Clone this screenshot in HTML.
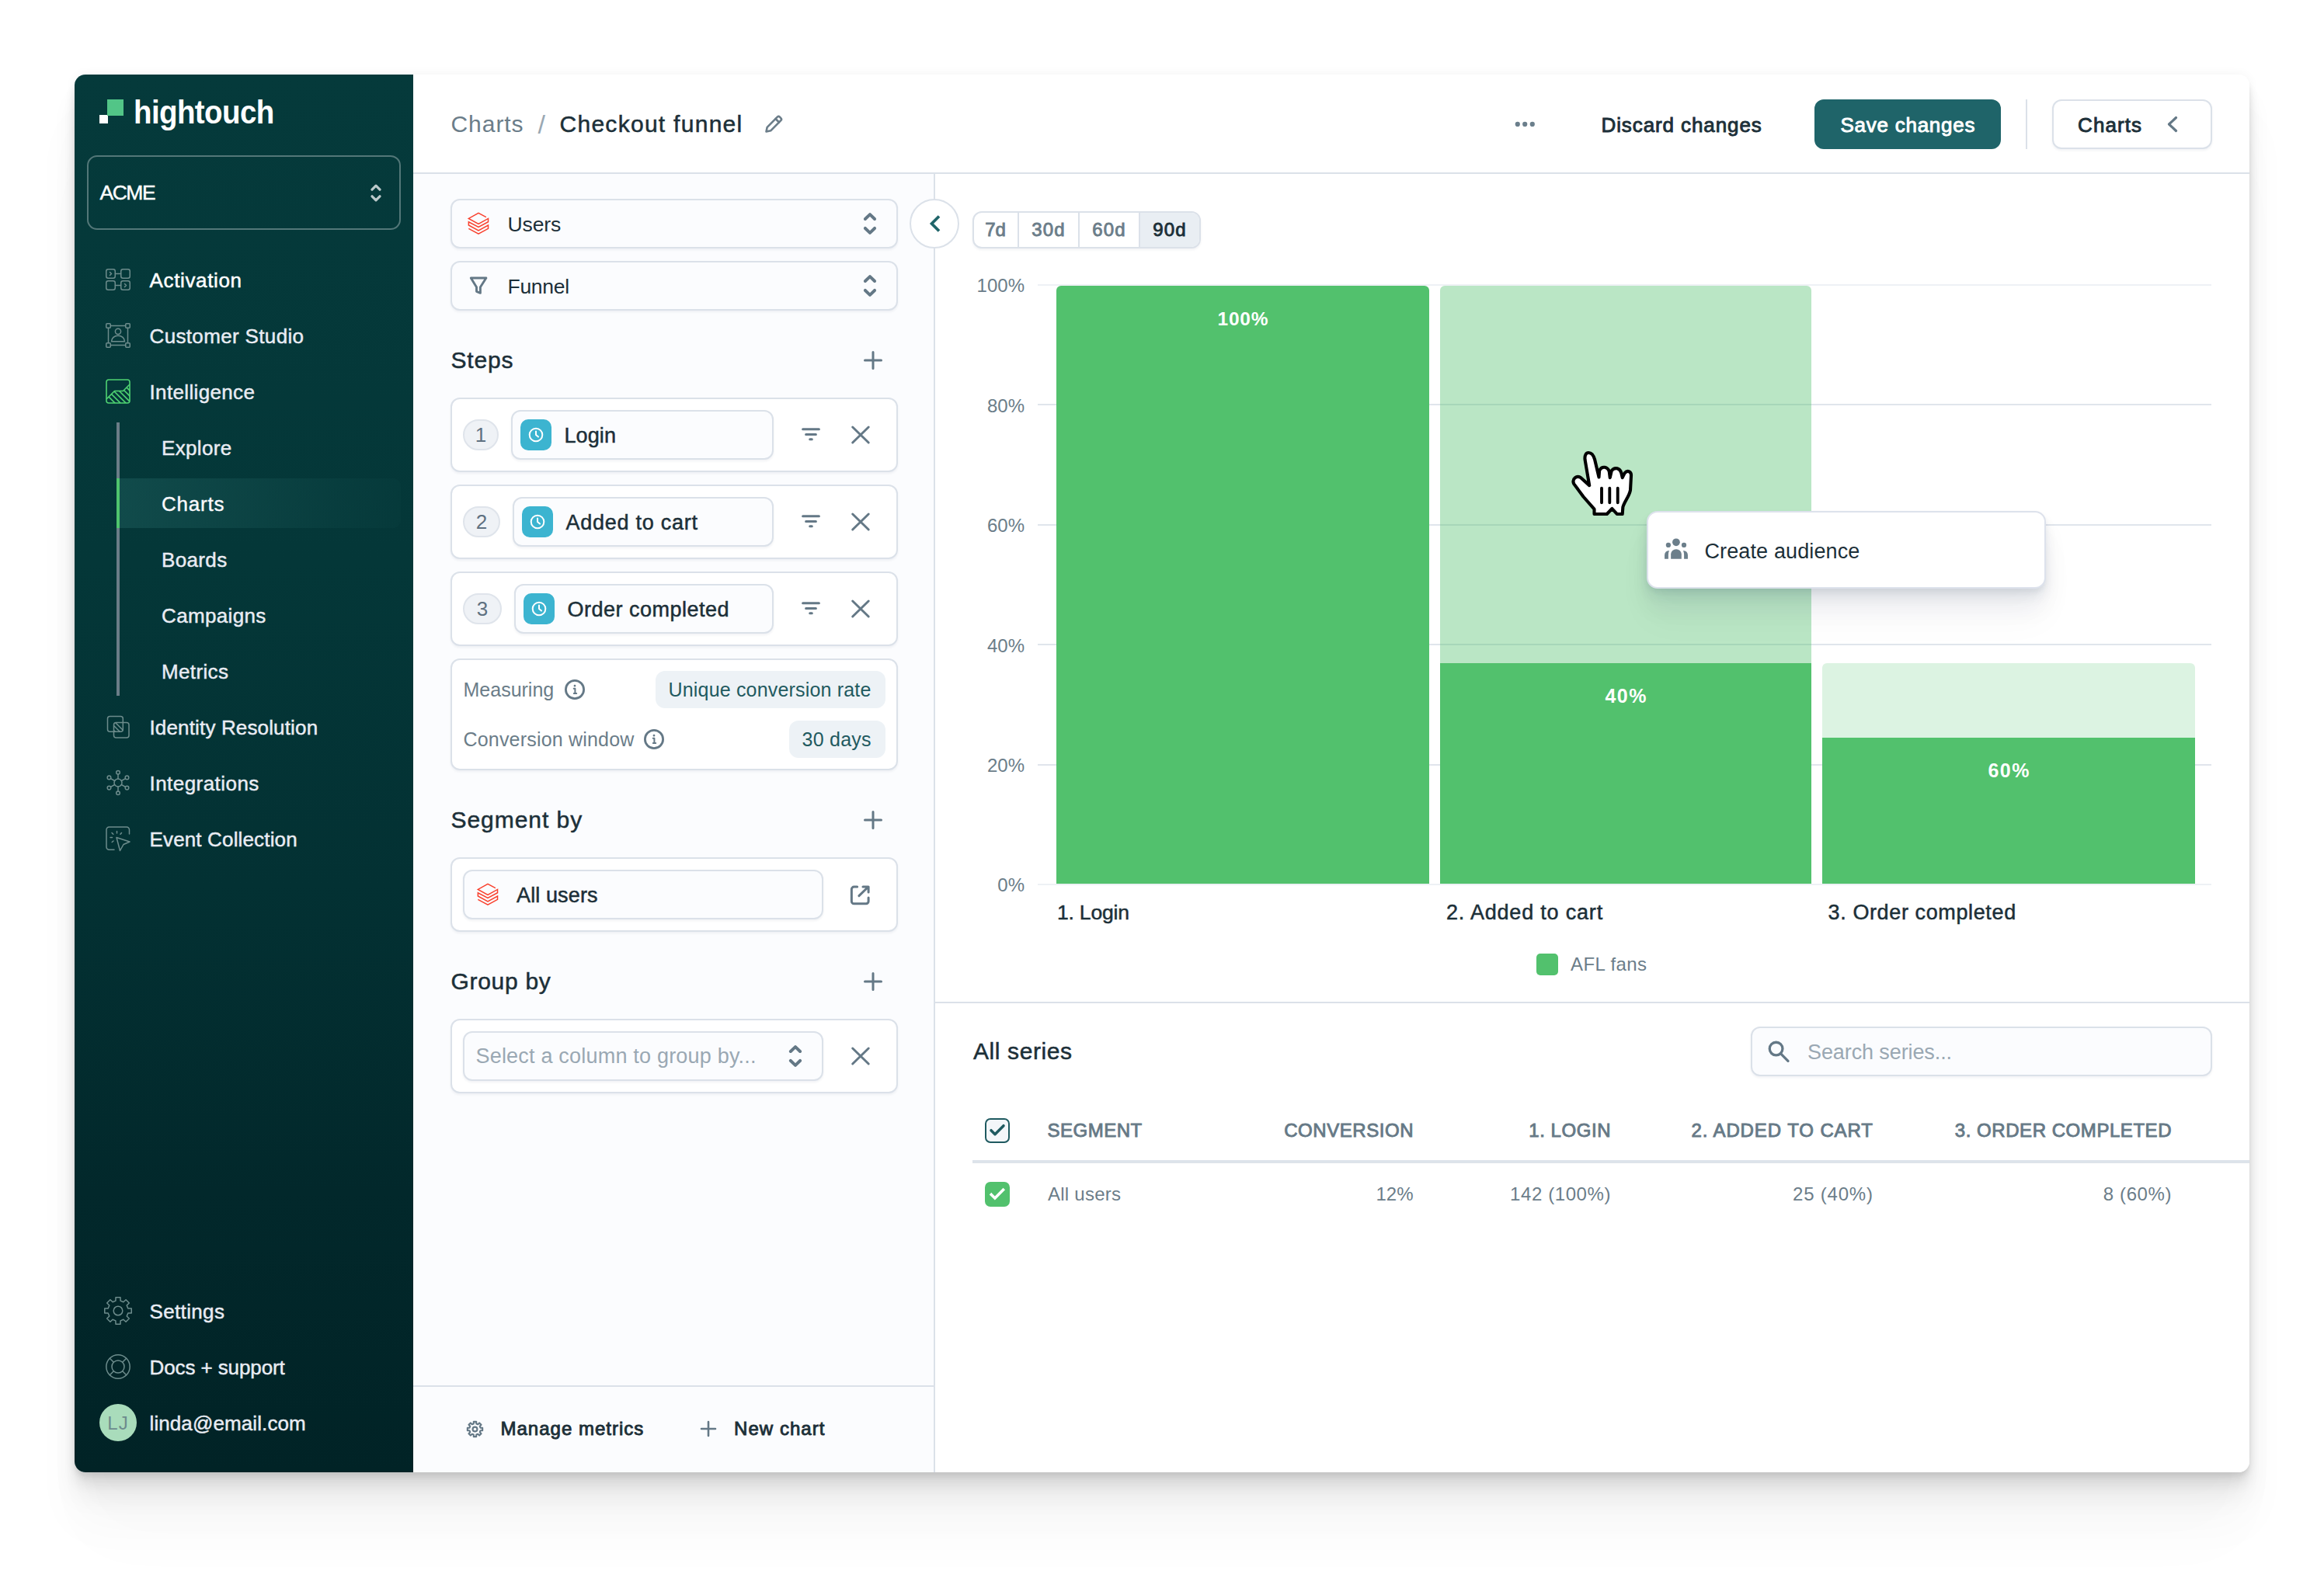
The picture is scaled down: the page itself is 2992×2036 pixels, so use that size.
<!DOCTYPE html>
<html lang="en">
<head>
<meta charset="utf-8">
<title>Checkout funnel – Charts</title>
<style>
*{box-sizing:border-box;margin:0;padding:0}
html,body{width:2992px;height:2036px;background:#fff;overflow:hidden}
body{position:relative;font-family:"Liberation Sans",sans-serif;color:#1f2f3a;-webkit-font-smoothing:antialiased}
#card{position:absolute;left:96px;top:96px;width:2800px;height:1800px;border-radius:14px;overflow:hidden;background:#fff}
#shadow{position:absolute;left:96px;top:96px;width:2800px;height:1800px;border-radius:14px;box-shadow:0 0 14px rgba(0,0,0,.05),0 4px 4px rgba(0,0,0,.03),0 8px 8px rgba(0,0,0,.04),0 16px 16px rgba(0,0,0,.065),0 32px 32px rgba(0,0,0,.06),0 64px 64px rgba(0,0,0,.03),0 100px 100px rgba(0,0,0,.012)}
#in{position:absolute;left:-96px;top:-96px;width:2992px;height:2036px}
.a{position:absolute}
.t{position:absolute;white-space:nowrap}
svg{position:absolute;overflow:visible}
/* sidebar */
#side{left:96px;top:96px;width:436px;height:1800px;background:linear-gradient(180deg,#053a3b 0%,#043738 35%,#033133 58%,#02282b 80%,#012326 100%)}
.nav{color:#e9ecf3;font-size:26px;height:40px;line-height:40px;letter-spacing:.35px;-webkit-text-stroke:.45px #e9ecf3}
.ic{stroke:#6d8c8c;stroke-width:1.5;fill:none;stroke-linecap:round;stroke-linejoin:round}
/* main */
.m5{-webkit-text-stroke:.5px currentColor}
.m6{-webkit-text-stroke:.9px currentColor}
.grey{color:#6b7d89}
.dk{color:#1c2f38}
.box{position:absolute;border:2px solid #dbe1e9;border-radius:12px;background:#fbfcfe;box-shadow:0 2px 3px rgba(30,50,80,.06)}
.wbox{position:absolute;border:2px solid #dbe1e9;border-radius:12px;background:#fff;box-shadow:0 2px 3px rgba(30,50,80,.06)}
.gi{stroke:#647886;fill:none;stroke-linecap:round;stroke-linejoin:round}
.h30{font-size:30px;height:40px;line-height:40px}
.f27{font-size:27px;height:40px;line-height:40px}
.f25{font-size:25px;height:36px;line-height:36px}
.f24{font-size:24px;height:32px;line-height:32px}
</style>
</head>
<body>
<div id="shadow"></div>
<div id="card"><div id="in">
<!--SIDEBAR-->
<div class="a" id="side"></div>
<!-- logo -->
<div class="a" style="left:128px;top:148px;width:11px;height:11px;background:#fff"></div>
<div class="a" style="left:138px;top:128px;width:21px;height:21px;background:#52c587"></div>
<div class="t" style="left:172px;top:117px;height:56px;line-height:56px;font-size:38.5px;font-weight:700;color:#fff;letter-spacing:-.6px;transform-origin:0 50%;transform:scale(1,1.1)">hightouch</div>
<!-- workspace -->
<div class="a" style="left:112px;top:200px;width:404px;height:96px;border:2px solid #537778;border-radius:13px"></div>
<div class="t" style="left:128.5px;top:228px;height:40px;line-height:40px;font-size:26.5px;color:#fff;letter-spacing:-1.5px;-webkit-text-stroke:.4px #fff">ACME</div>
<svg style="left:476px;top:236px" width="16" height="25" viewBox="0 0 16 25"><path d="M3 8.200 L8 3.200 L13 8.200 M3 16.800 L8 21.800 L13 16.800" fill="none" stroke="#bccacb" stroke-width="3.200" stroke-linecap="round" stroke-linejoin="round"/></svg>
<!-- nav icons -->
<svg style="left:136px;top:346px" width="32" height="28" viewBox="0 0 32 28" class="ic"><rect x=".75" y=".75" width="11.5" height="11.5" rx="2.5"/><rect x="19.75" y=".75" width="11.5" height="11.5" rx="2.5"/><rect x=".75" y="15.75" width="11.5" height="11.5" rx="2.5"/><rect x="19.75" y="15.75" width="11.5" height="11.5" rx="2.5"/><path d="M12.5 6.5h7M12.5 21.5h7M5.5 4.5l2 2-2 2M24.5 19.5l2 2-2 2"/></svg>
<svg style="left:136px;top:416px" width="32" height="32" viewBox="0 0 32 32" class="ic"><path d="M6.5 3.5h19M6.5 28.5h19M3.5 6.5v19M28.5 6.5v19"/><rect x=".75" y=".75" width="5.5" height="5.5" rx="1"/><rect x="25.75" y=".75" width="5.5" height="5.5" rx="1"/><rect x=".75" y="25.75" width="5.5" height="5.5" rx="1"/><rect x="25.75" y="25.75" width="5.5" height="5.5" rx="1"/><circle cx="16" cy="10.8" r="3.6"/><path d="M7.5 23.8a8.5 7.6 0 0 1 17 0z"/></svg>
<svg style="left:136px;top:488px" width="32" height="32" viewBox="0 0 32 32" fill="none" stroke="#4fd272" stroke-width="1.6" stroke-linecap="round" stroke-linejoin="round"><defs><clipPath id="ia"><path d="M1 26 L11.5 15.5 L22.5 15.5 L31 7 L31 31 L1 31Z"/></clipPath></defs><rect x="1" y="1" width="30" height="30" rx="3"/><path d="M1.5 25.5 L11.5 15.5 L22.5 15.5 L30.5 7.5"/><g clip-path="url(#ia)"><path d="M-2 17l16 16M3 15l18 18M9 14l18 18M15 13l18 18M21 12l14 14M26 10l10 10"/></g></svg>
<!-- sub nav -->
<div class="a" style="left:150px;top:544px;width:4px;height:352px;background:#6b7d87"></div>
<div class="a" style="left:154px;top:616px;width:362px;height:64px;border-radius:0 10px 10px 0;background:linear-gradient(90deg,rgba(90,185,180,.15) 0%,rgba(90,185,180,.13) 14%,rgba(90,185,180,.09) 45%,rgba(90,185,180,.04) 80%,rgba(90,185,180,.02) 100%)"></div>
<div class="a" style="left:150px;top:616px;width:4px;height:64px;background:#4fc46d"></div>
<div class="t nav" style="left:192.5px;top:341px;color:#fff;letter-spacing:.65px;-webkit-text-stroke:.5px #fff">Activation</div>
<div class="t nav" style="left:192.5px;top:413px">Customer Studio</div>
<div class="t nav" style="left:192.5px;top:485px">Intelligence</div>
<div class="t nav" style="left:208px;top:557px">Explore</div>
<div class="t nav" style="left:208px;top:629px;letter-spacing:.8px;color:#fff">Charts</div>
<div class="t nav" style="left:208px;top:701px">Boards</div>
<div class="t nav" style="left:208px;top:773px">Campaigns</div>
<div class="t nav" style="left:208px;top:845px">Metrics</div>
<div class="t nav" style="left:192.5px;top:917px;letter-spacing:.15px">Identity Resolution</div>
<div class="t nav" style="left:192.5px;top:989px;letter-spacing:.45px">Integrations</div>
<div class="t nav" style="left:192.5px;top:1061px;letter-spacing:.15px">Event Collection</div>
<svg style="left:136px;top:920px" width="32" height="32" viewBox="0 0 32 32" class="ic"><defs><clipPath id="ib"><rect x="10.5" y="10.5" width="11.8" height="11.8"/></clipPath></defs><rect x="2.5" y="2.5" width="19.8" height="19.8" rx="3"/><rect x="10.5" y="10.5" width="19.5" height="19.5" rx="3"/><g clip-path="url(#ib)"><path d="M8 12l12 12M11 9l13 13M5 15l10 10"/></g></svg>
<svg style="left:136px;top:992px" width="32" height="32" viewBox="0 0 32 32" class="ic"><circle cx="16" cy="16" r="5"/><circle cx="16" cy="2.8" r="2.3"/><circle cx="16" cy="29.2" r="2.3"/><circle cx="4.5" cy="9.4" r="2.3"/><circle cx="27.5" cy="9.4" r="2.3"/><circle cx="4.5" cy="22.6" r="2.3"/><circle cx="27.5" cy="22.6" r="2.3"/><path d="M16 5.1v5.9M16 21v5.9M6.5 10.6l5.2 2.9M25.5 10.6l-5.2 2.9M6.5 21.4l5.2-2.9M25.5 21.4l-5.2-2.9"/></svg>
<svg style="left:136px;top:1064px" width="32" height="32" viewBox="0 0 32 32" class="ic"><path d="M11 30.2H4.5a3.5 3.5 0 0 1-3.500-3.500V4.500A3.500 3.500 0 0 1 4.500 1H27a3.500 3.500 0 0 1 3.500 3.500V10"/><path d="M14 14.500l17 5.500-8 3.500-4.500 8z"/><path d="M14.500 6.500v2.500M8 8.500l1.800 1.800M20.500 8.500l-1.500 1.800M6 14.500h2.500M8.200 20.500l1.800-1.500"/></svg>
<!-- bottom nav -->
<svg style="left:134px;top:1670px" width="36" height="36" viewBox="-18 -18 36 36" class="ic"><path d="M-3.08 -12.84 L-3.01 -17.24 L3.01 -17.24 L3.08 -12.84 L6.90 -11.25 L10.06 -14.32 L14.32 -10.06 L11.25 -6.90 L12.84 -3.08 L17.24 -3.01 L17.24 3.01 L12.84 3.08 L11.25 6.90 L14.32 10.06 L10.06 14.32 L6.90 11.25 L3.08 12.84 L3.01 17.24 L-3.01 17.24 L-3.08 12.84 L-6.90 11.25 L-10.06 14.32 L-14.32 10.06 L-11.25 6.90 L-12.84 3.08 L-17.24 3.01 L-17.24 -3.01 L-12.84 -3.08 L-11.25 -6.90 L-14.32 -10.06 L-10.06 -14.32 L-6.90 -11.25Z" stroke-width="1.5"/><circle cx="0" cy="0" r="5.8"/></svg>
<svg style="left:136px;top:1744px" width="32" height="32" viewBox="0 0 32 32" class="ic"><circle cx="16" cy="16" r="15.200"/><circle cx="16" cy="16" r="8"/><path d="M5.300 5.300l5 5M26.700 5.300l-5 5M5.300 26.700l5-5M26.700 26.700l-5-5"/></svg>
<div class="a" style="left:128px;top:1808px;width:48px;height:48px;border-radius:50%;background:#a9dcbb"></div>
<div class="t" style="left:128px;top:1808px;width:48px;height:48px;line-height:49px;text-align:center;font-size:24px;color:#6d8b8d;letter-spacing:1px">LJ</div>
<div class="t nav" style="left:192.5px;top:1669px">Settings</div>
<div class="t nav" style="left:192.5px;top:1741px;letter-spacing:-.1px">Docs + support</div>
<div class="t nav" style="left:192.5px;top:1813px;letter-spacing:.1px">linda@email.com</div>
<!--/SIDEBAR-->
<!--HEADER-->
<div class="a" style="left:532px;top:222px;width:2364px;height:2px;background:#dbe1e9"></div>
<div class="t h30 grey" style="left:580.5px;top:139.500px;letter-spacing:.95px">Charts</div>
<div class="t h30" style="left:692.5px;top:139.500px;color:#9aa8b3;font-size:34px;font-weight:400">/</div>
<div class="t h30 dk m5" style="left:720.5px;top:139.500px;letter-spacing:1.28px">Checkout funnel</div>
<svg style="left:984px;top:148px" width="24" height="24" viewBox="0 0 24 24" fill="none" stroke="#6b7d89" stroke-width="2.6" stroke-linejoin="round" stroke-linecap="round"><path d="M2.500 21.500l1.200-5.700L16.800 2.700a2.200 2.200 0 0 1 3.100 0l1.400 1.400a2.200 2.200 0 0 1 0 3.100L8.200 20.300z"/><path d="M14.500 5l4.500 4.500"/></svg>
<svg style="left:1950px;top:155px" width="28" height="10" viewBox="0 0 28 10" fill="#6b7f8c"><circle cx="3.800" cy="4.900" r="3.100"/><circle cx="13.200" cy="4.900" r="3.100"/><circle cx="22.800" cy="4.900" r="3.100"/></svg>
<div class="t dk m6" style="left:2061.500px;top:140.500px;font-size:26px;height:40px;line-height:40px;letter-spacing:.9px">Discard changes</div>
<div class="a" style="left:2336px;top:128px;width:240px;height:64px;border-radius:12px;background:#1f6469"></div>
<div class="t m6" style="left:2336px;top:140.500px;width:240px;text-align:center;font-size:26px;height:40px;line-height:40px;color:#fff;letter-spacing:.75px;text-indent:.75px">Save changes</div>
<div class="a" style="left:2608px;top:128px;width:2px;height:64px;background:#dbe1e9"></div>
<div class="wbox" style="left:2642px;top:128px;width:206px;height:64px"></div>
<div class="t dk m6" style="left:2675px;top:140.500px;font-size:26px;height:40px;line-height:40px;letter-spacing:1.1px">Charts</div>
<svg style="left:2788px;top:148px" width="18" height="24" viewBox="0 0 18 24" class="gi" stroke-width="3.200"><path d="M13.500 3.500L4.500 12l9 8.500"/></svg>
<!--/HEADER-->
<!--PANEL-->
<div class="a" style="left:532px;top:224px;width:670px;height:1672px;background:#fbfcfe"></div>
<div class="a" style="left:1202px;top:224px;width:2px;height:1672px;background:#dbe1e9"></div>
<!-- selects -->
<div class="box" style="left:580px;top:256px;width:576px;height:64px"></div>
<svg style="left:602px;top:274px" width="28" height="28" viewBox="0 0 28 28" fill="none" stroke="#f9402d" stroke-width="1.500" stroke-linejoin="miter" stroke-linecap="butt"><path d="M23.870 5.650L14 .460 1.340 7.420 14 14.380 26.530 7.420V11.720L14 18.430 1.340 11.720V16.030L14 22.860 26.530 16.030V20.330L14 27.160 1.340 20.330"/></svg>
<div class="t f27 dk" style="left:653.500px;top:269px;font-size:26.500px;letter-spacing:-.1px">Users</div>
<svg style="left:1110px;top:273px" width="20" height="30" viewBox="0 0 20 30" class="gi" stroke-width="4"><path d="M3.900 9L10 3.100 16.050 9M3.900 20.970L10 26.850 16.050 20.970"/></svg>
<div class="box" style="left:580px;top:336px;width:576px;height:64px"></div>
<svg style="left:603px;top:355px" width="26" height="26" viewBox="0 0 26 26" class="gi" stroke-width="2.900"><path d="M3.260 3.070H22.880L15.400 14.700V22.400L10.500 20.300V14.700z"/></svg>
<div class="t f27 dk" style="left:653.500px;top:349px;font-size:26.500px;letter-spacing:-.3px">Funnel</div>
<svg style="left:1110px;top:353px" width="20" height="30" viewBox="0 0 20 30" class="gi" stroke-width="4"><path d="M3.900 9L10 3.100 16.050 9M3.900 20.970L10 26.850 16.050 20.970"/></svg>
<!-- Steps -->
<div class="t h30 dk m5" style="left:580.5px;top:443.500px;letter-spacing:.8px">Steps</div>
<svg style="left:1112px;top:452px" width="24" height="24" viewBox="0 0 24 24" class="gi" stroke-width="3"><path d="M12 1.500v21M1.500 12h21"/></svg>
<!-- step 1 -->
<div class="wbox" style="left:580px;top:512px;width:576px;height:96px"></div>
<div class="a" style="left:596px;top:540px;width:46px;height:40px;border-radius:20px;background:#eff2f6;border:2px solid #dfe4eb"></div>
<div class="t f27" style="left:596px;top:540px;width:46px;text-align:center;color:#5f7181;font-size:26px">1</div>
<div class="box" style="left:658px;top:528px;width:338px;height:64px"></div>
<div class="a" style="left:670px;top:540px;width:40px;height:40px;border-radius:10px;background:#3cb4d0"></div>
<svg style="left:680px;top:550px" width="20" height="20" viewBox="0 0 20 20" fill="none" stroke="#fff" stroke-width="2" stroke-linecap="round" stroke-linejoin="round"><circle cx="10" cy="10" r="8.300"/><path d="M10 5.500V10l3 2.500"/></svg>
<div class="t f27 dk m5" style="left:726.500px;top:541px;letter-spacing:.1px">Login</div>
<svg style="left:1031px;top:550px" width="26" height="20" viewBox="0 0 26 20" class="gi" stroke-width="3"><path d="M2.600 2.700H23.400M6.600 9.400H19.400M11.700 15.800H14.300"/></svg>
<svg style="left:1096px;top:548px" width="24" height="24" viewBox="0 0 24 24" class="gi" stroke-width="3"><path d="M1.700 2L22.200 22M22.200 2L1.700 22"/></svg>
<!-- step 2 -->
<div class="wbox" style="left:580px;top:624px;width:576px;height:96px"></div>
<div class="a" style="left:596px;top:652px;width:48px;height:40px;border-radius:20px;background:#eff2f6;border:2px solid #dfe4eb"></div>
<div class="t f27" style="left:596px;top:652px;width:48px;text-align:center;color:#5f7181;font-size:26px">2</div>
<div class="box" style="left:660px;top:640px;width:336px;height:64px"></div>
<div class="a" style="left:672px;top:652px;width:40px;height:40px;border-radius:10px;background:#3cb4d0"></div>
<svg style="left:682px;top:662px" width="20" height="20" viewBox="0 0 20 20" fill="none" stroke="#fff" stroke-width="2" stroke-linecap="round" stroke-linejoin="round"><circle cx="10" cy="10" r="8.300"/><path d="M10 5.500V10l3 2.500"/></svg>
<div class="t f27 dk m5" style="left:728.500px;top:653px;letter-spacing:.75px">Added to cart</div>
<svg style="left:1031px;top:662px" width="26" height="20" viewBox="0 0 26 20" class="gi" stroke-width="3"><path d="M2.600 2.700H23.400M6.600 9.400H19.400M11.700 15.800H14.300"/></svg>
<svg style="left:1096px;top:660px" width="24" height="24" viewBox="0 0 24 24" class="gi" stroke-width="3"><path d="M1.700 2L22.200 22M22.200 2L1.700 22"/></svg>
<!-- step 3 -->
<div class="wbox" style="left:580px;top:736px;width:576px;height:96px"></div>
<div class="a" style="left:596px;top:764px;width:50px;height:40px;border-radius:20px;background:#eff2f6;border:2px solid #dfe4eb"></div>
<div class="t f27" style="left:596px;top:764px;width:50px;text-align:center;color:#5f7181;font-size:26px">3</div>
<div class="box" style="left:662px;top:752px;width:334px;height:64px"></div>
<div class="a" style="left:674px;top:764px;width:40px;height:40px;border-radius:10px;background:#3cb4d0"></div>
<svg style="left:684px;top:774px" width="20" height="20" viewBox="0 0 20 20" fill="none" stroke="#fff" stroke-width="2" stroke-linecap="round" stroke-linejoin="round"><circle cx="10" cy="10" r="8.300"/><path d="M10 5.500V10l3 2.500"/></svg>
<div class="t f27 dk m5" style="left:730.500px;top:765px;letter-spacing:.5px">Order completed</div>
<svg style="left:1031px;top:774px" width="26" height="20" viewBox="0 0 26 20" class="gi" stroke-width="3"><path d="M2.600 2.700H23.400M6.600 9.400H19.400M11.700 15.800H14.300"/></svg>
<svg style="left:1096px;top:772px" width="24" height="24" viewBox="0 0 24 24" class="gi" stroke-width="3"><path d="M1.700 2L22.200 22M22.200 2L1.700 22"/></svg>
<!-- measuring -->
<div class="wbox" style="left:580px;top:848px;width:576px;height:144px"></div>
<div class="t f25 grey" style="left:596.500px;top:870px">Measuring</div>
<svg style="left:727px;top:875px" width="26" height="26" viewBox="0 0 26 26" class="gi" stroke-width="2.800"><circle cx="13" cy="13" r="11.600" stroke-width="2.800"/><path d="M11.700 11.800h1.700v5.800M11.800 17.900h3.400" stroke-width="2"/><circle cx="13" cy="8.200" r=".8" fill="#5f7181" stroke-width="1.200"/></svg>
<div class="a" style="left:844px;top:864px;width:296px;height:48px;border-radius:12px;background:#edf2f6"></div>
<div class="t f25" style="left:860.500px;top:870px;color:#1f5a60;letter-spacing:.18px">Unique conversion rate</div>
<div class="t f25 grey" style="left:596.500px;top:934px;letter-spacing:.19px">Conversion window</div>
<svg style="left:829px;top:939px" width="26" height="26" viewBox="0 0 26 26" class="gi" stroke-width="2.800"><circle cx="13" cy="13" r="11.600" stroke-width="2.800"/><path d="M11.700 11.800h1.700v5.800M11.800 17.900h3.400" stroke-width="2"/><circle cx="13" cy="8.200" r=".8" fill="#5f7181" stroke-width="1.200"/></svg>
<div class="a" style="left:1016px;top:928px;width:124px;height:48px;border-radius:12px;background:#edf2f6"></div>
<div class="t f25" style="left:1032.500px;top:934px;color:#1f5a60;letter-spacing:.26px">30 days</div>
<!-- segment by -->
<div class="t h30 dk m5" style="left:580.500px;top:1035.500px;letter-spacing:.95px">Segment by</div>
<svg style="left:1112px;top:1044px" width="24" height="24" viewBox="0 0 24 24" class="gi" stroke-width="3"><path d="M12 1.500v21M1.500 12h21"/></svg>
<div class="wbox" style="left:580px;top:1104px;width:576px;height:96px"></div>
<div class="box" style="left:596px;top:1120px;width:464px;height:64px"></div>
<svg style="left:614px;top:1138px" width="28" height="28" viewBox="0 0 28 28" fill="none" stroke="#f9402d" stroke-width="1.500" stroke-linejoin="miter" stroke-linecap="butt"><path d="M23.870 5.650L14 .460 1.340 7.420 14 14.380 26.530 7.420V11.720L14 18.430 1.340 11.720V16.030L14 22.860 26.530 16.030V20.330L14 27.160 1.340 20.330"/></svg>
<div class="t f27 dk m5" style="left:665px;top:1133px;letter-spacing:.12px">All users</div>
<svg style="left:1094px;top:1139px" width="28" height="28" viewBox="0 0 28 28" class="gi" stroke-width="3"><path d="M9.650 3.040H5.500A3.150 3.150 0 0 0 2.350 6.200V21.800A3 3 0 0 0 5.500 24.800H21.100A3 3 0 0 0 24.100 21.800V17.100"/><path d="M11.900 14.700L23.900 3.040M16.960 3.040H24.100V10"/></svg>
<!-- group by -->
<div class="t h30 dk m5" style="left:580.500px;top:1243.500px;letter-spacing:.7px">Group by</div>
<svg style="left:1112px;top:1252px" width="24" height="24" viewBox="0 0 24 24" class="gi" stroke-width="3"><path d="M12 1.500v21M1.500 12h21"/></svg>
<div class="wbox" style="left:580px;top:1312px;width:576px;height:96px"></div>
<div class="box" style="left:596px;top:1328px;width:464px;height:64px"></div>
<div class="t f27" style="left:612.500px;top:1340px;color:#9aa8b3;letter-spacing:.2px">Select a column to group by...</div>
<svg style="left:1014px;top:1345px" width="20" height="30" viewBox="0 0 20 30" class="gi" stroke-width="4"><path d="M3.900 9L10 3.100 16.050 9M3.900 20.970L10 26.850 16.050 20.970"/></svg>
<svg style="left:1096px;top:1348px" width="24" height="24" viewBox="0 0 24 24" class="gi" stroke-width="3"><path d="M1.700 2L22.200 22M22.200 2L1.700 22"/></svg>
<!-- bottom bar -->
<div class="a" style="left:532px;top:1784px;width:670px;height:2px;background:#dbe1e9"></div>
<svg style="left:601px;top:1829.500px" width="21" height="21" viewBox="-11.800 -11.800 23.600 23.600" fill="none" stroke="#647886" stroke-width="2.400" stroke-linejoin="round"><path d="M-1.910 -7.970 L-1.890 -10.840 L1.890 -10.840 L1.910 -7.970 L4.280 -6.990 L6.330 -9.000 L9.000 -6.330 L6.990 -4.280 L7.970 -1.910 L10.840 -1.890 L10.840 1.890 L7.970 1.910 L6.990 4.280 L9.000 6.330 L6.330 9.000 L4.280 6.990 L1.910 7.970 L1.890 10.840 L-1.890 10.840 L-1.910 7.970 L-4.280 6.990 L-6.330 9.000 L-9.000 6.330 L-6.990 4.280 L-7.970 1.910 L-10.840 1.890 L-10.840 -1.890 L-7.970 -1.910 L-6.990 -4.280 L-9.000 -6.330 L-6.330 -9.000 L-4.280 -6.990Z"/><circle cx="0" cy="0" r="3.300"/></svg>
<div class="t dk m6" style="left:644.500px;top:1820px;font-size:24px;height:40px;line-height:40px;letter-spacing:1px">Manage metrics</div>
<svg style="left:902px;top:1830px" width="20" height="20" viewBox="0 0 20 20" class="gi" stroke-width="2.600"><path d="M10 1v18M1 10h18"/></svg>
<div class="t dk m6" style="left:945px;top:1820px;font-size:24px;height:40px;line-height:40px;letter-spacing:1.050px">New chart</div>
<!--/PANEL-->
<!--CHART-->
<div class="a" style="left:1204px;top:1290px;width:1692px;height:2px;background:#dbe1e9"></div>
<!-- collapse btn -->
<div class="a" style="left:1171px;top:256px;width:64px;height:64px;border-radius:50%;background:#fff;border:2px solid #dbe1e9"></div>
<svg style="left:1195px;top:277px" width="16" height="22" viewBox="0 0 16 22" fill="none" stroke="#1f6469" stroke-width="3.700" stroke-linecap="butt" stroke-linejoin="miter"><path d="M14 1.500L4.500 11l9.500 9.500"/></svg>
<!-- range -->
<div class="wbox" style="left:1252px;top:272px;width:294px;height:48px;overflow:hidden"><div class="a" style="left:213px;top:0;width:79px;height:44px;background:#e9eef3"></div><div class="a" style="left:56px;top:0;width:2px;height:44px;background:#dbe1e9"></div><div class="a" style="left:134px;top:0;width:2px;height:44px;background:#dbe1e9"></div><div class="a" style="left:212px;top:0;width:2px;height:44px;background:#dbe1e9"></div></div>
<div class="t f24 grey m6" style="left:1253px;top:279.500px;width:57px;text-align:center">7d</div>
<div class="t f24 grey m6" style="left:1311px;top:279.500px;width:77px;text-align:center;letter-spacing:1.2px;text-indent:1.2px">30d</div>
<div class="t f24 grey m6" style="left:1389px;top:279.500px;width:77px;text-align:center;letter-spacing:1.2px;text-indent:1.2px">60d</div>
<div class="t f24 dk m6" style="left:1467px;top:279.500px;width:77px;text-align:center;letter-spacing:1.2px;text-indent:1.2px">90d</div>
<!-- grid -->
<div class="a" style="left:1336px;top:366px;width:1511px;height:2px;background:#eef1f5"></div>
<div class="a" style="left:1336px;top:520px;width:1511px;height:2px;background:#e0e5ec"></div>
<div class="a" style="left:1336px;top:675px;width:1511px;height:2px;background:#e0e5ec"></div>
<div class="a" style="left:1336px;top:829px;width:1511px;height:2px;background:#e0e5ec"></div>
<div class="a" style="left:1336px;top:984px;width:1511px;height:2px;background:#e0e5ec"></div>
<div class="a" style="left:1336px;top:1138px;width:1511px;height:2px;background:#eef1f5"></div>
<div class="t f24 grey" style="left:1219px;top:352px;width:100px;text-align:right">100%</div>
<div class="t f24 grey" style="left:1219px;top:506.500px;width:100px;text-align:right">80%</div>
<div class="t f24 grey" style="left:1219px;top:661px;width:100px;text-align:right">60%</div>
<div class="t f24 grey" style="left:1219px;top:815.500px;width:100px;text-align:right">40%</div>
<div class="t f24 grey" style="left:1219px;top:970px;width:100px;text-align:right">20%</div>
<div class="t f24 grey" style="left:1219px;top:1124px;width:100px;text-align:right">0%</div>
<!-- bars -->
<div class="a" style="left:1360px;top:368px;width:480px;height:770px;background:#52c16d;border-radius:6px 6px 0 0"></div>
<div class="a" style="left:1854px;top:368px;width:478px;height:486px;background:rgba(82,193,109,.4);border-radius:6px 6px 0 0"></div>
<div class="a" style="left:1854px;top:854px;width:478px;height:284px;background:#52c16d"></div>
<div class="a" style="left:2346px;top:854px;width:480px;height:96px;background:rgba(82,193,109,.2);border-radius:6px 6px 0 0"></div>
<div class="a" style="left:2346px;top:950px;width:480px;height:188px;background:#52c16d"></div>
<div class="t f24" style="left:1360px;top:394.500px;width:480px;text-align:center;color:#fff;font-weight:700;font-size:24.500px;letter-spacing:.8px;text-indent:.8px">100%</div>
<div class="t f24" style="left:1854px;top:880px;width:478px;text-align:center;color:#fff;font-weight:700;font-size:25px;letter-spacing:1.500px;text-indent:1.500px">40%</div>
<div class="t f24" style="left:2346px;top:976px;width:480px;text-align:center;color:#fff;font-weight:700;font-size:25px;letter-spacing:1.500px;text-indent:1.500px">60%</div>
<!-- x labels -->
<div class="t dk m5" style="left:1361px;top:1155px;font-size:26.500px;height:40px;line-height:40px;letter-spacing:-.2px">1. Login</div>
<div class="t dk m5" style="left:1862px;top:1155px;font-size:27px;height:40px;line-height:40px;letter-spacing:.8px">2. Added to cart</div>
<div class="t dk m5" style="left:2353.500px;top:1155px;font-size:27px;height:40px;line-height:40px;letter-spacing:.62px">3. Order completed</div>
<!-- legend -->
<div class="a" style="left:1977.500px;top:1227.500px;width:28px;height:28px;border-radius:5px;background:#52c16d"></div>
<div class="t f24 grey" style="left:2022px;top:1225.500px;letter-spacing:.4px">AFL fans</div>
<!-- tooltip -->
<div class="a" style="left:2120px;top:658px;width:514px;height:100px;border-radius:14px;background:#fff;border:2px solid #dde2ec;box-shadow:0 4px 6px rgba(20,40,70,.06),0 10px 16px rgba(20,40,70,.07),0 24px 32px rgba(20,40,70,.06),0 40px 48px rgba(20,40,70,.03)"></div>
<svg style="left:2142px;top:692px" width="32" height="29" viewBox="0 0 32 29" fill="#6c7f8b"><circle cx="15.930" cy="6.260" r="4.870"/><circle cx="5.900" cy="9.900" r="3.130"/><circle cx="26" cy="9.900" r="3.130"/><path d="M9.150 27.800V21.500A6.830 6.550 0 0 1 22.800 21.500V27.800z"/><path d="M1.040 27.800V22.800A5.900 5.900 0 0 1 6.960 16.900Q5.900 19.500 5.900 22.800V27.800z"/><path d="M30.960 27.800V22.800A5.900 5.900 0 0 0 25.040 16.900Q26.100 19.500 26.100 22.800V27.800z"/></svg>
<div class="t f27 dk" style="left:2194.500px;top:689.500px;letter-spacing:.12px">Create audience</div>
<!-- cursor -->
<svg style="left:2010px;top:570px" width="110" height="105" viewBox="0 0 1656 1581"><path d="M545 830 L460 330 C440 150 600 150 650 330 L730 670 L740 540 C790 440 900 470 930 560 L945 680 L975 545 C1040 460 1140 500 1165 590 L1185 680 L1230 590 C1290 520 1360 570 1355 640 L1340 920 C1320 1040 1230 1130 1195 1250 L1185 1385 L1080 1385 L985 1280 L885 1385 L640 1385 L640 1290 L430 1050 L245 800 C200 700 300 630 380 680 Z" fill="#fff" stroke="#000" stroke-width="62" stroke-linejoin="round" stroke-linecap="round"/><path d="M783 885V1165M938 885V1165M1095 885V1165" stroke="#000" stroke-width="58" stroke-linecap="round" fill="none"/></svg>
<!--/CHART-->
<!--TABLE-->
<div class="t h30 dk m5" style="left:1253px;top:1333.500px;letter-spacing:.6px">All series</div>
<div class="box" style="left:2254px;top:1322px;width:594px;height:64px"></div>
<svg style="left:2276px;top:1340px" width="28" height="28" viewBox="0 0 28 28" class="gi" stroke-width="3.300" style="stroke-linecap:butt"><circle cx="10.600" cy="10.600" r="8.350"/><path d="M16.600 16.900L26 26.300"/></svg>
<div class="t f27" style="left:2327px;top:1335px;color:#9aa8b3;letter-spacing:-.1px">Search series...</div>
<!-- header -->
<div class="a" style="left:1268px;top:1440px;width:32px;height:32px;border-radius:7px;border:2.500px solid #1f5a60;background:#f3f6f9"></div>
<svg style="left:1268px;top:1440px" width="32" height="32" viewBox="0 0 32 32" fill="none" stroke="#1f5a60" stroke-width="3.500" stroke-linecap="round" stroke-linejoin="round"><path d="M8 15.700l5 5 11-11"/></svg>
<div class="t f24 m6" style="left:1348.500px;top:1439.500px;color:#667986;letter-spacing:.5px">SEGMENT</div>
<div class="t f24 m6" style="right:1172.500px;top:1439.500px;color:#667986;letter-spacing:.55px;margin-right:-.55px">CONVERSION</div>
<div class="t f24 m6" style="right:918.500px;top:1439.500px;color:#667986;letter-spacing:.55px;margin-right:-.55px">1. LOGIN</div>
<div class="t f24 m6" style="right:581px;top:1439.500px;color:#667986;letter-spacing:.55px;margin-right:-.9px;letter-spacing:.9px">2. ADDED TO CART</div>
<div class="t f24 m6" style="right:196.500px;top:1439.500px;color:#667986;letter-spacing:.55px;margin-right:-.55px">3. ORDER COMPLETED</div>
<div class="a" style="left:1252px;top:1494px;width:1644px;height:4px;background:#dde3ea"></div>
<!-- row -->
<div class="a" style="left:1268px;top:1522px;width:32px;height:32px;border-radius:7px;background:#52c16d"></div>
<svg style="left:1268px;top:1522px" width="32" height="32" viewBox="0 0 32 32" fill="none" stroke="#fff" stroke-width="3.600" stroke-linecap="square" stroke-linejoin="miter"><path d="M8.300 16.400l4.600 4.600 10.600-10.700"/></svg>
<div class="t f24 grey" style="left:1349px;top:1521.500px;letter-spacing:.25px">All users</div>
<div class="t f24 grey" style="right:1172.500px;top:1521.500px">12%</div>
<div class="t f24 grey" style="right:918.500px;top:1521.500px;letter-spacing:.6px;margin-right:-.6px">142 (100%)</div>
<div class="t f24 grey" style="right:581px;top:1521.500px;letter-spacing:.8px;margin-right:-.8px">25 (40%)</div>
<div class="t f24 grey" style="right:196.500px;top:1521.500px;letter-spacing:.6px;margin-right:-.6px">8 (60%)</div>
<!--/TABLE-->
</div></div>
</body>
</html>
